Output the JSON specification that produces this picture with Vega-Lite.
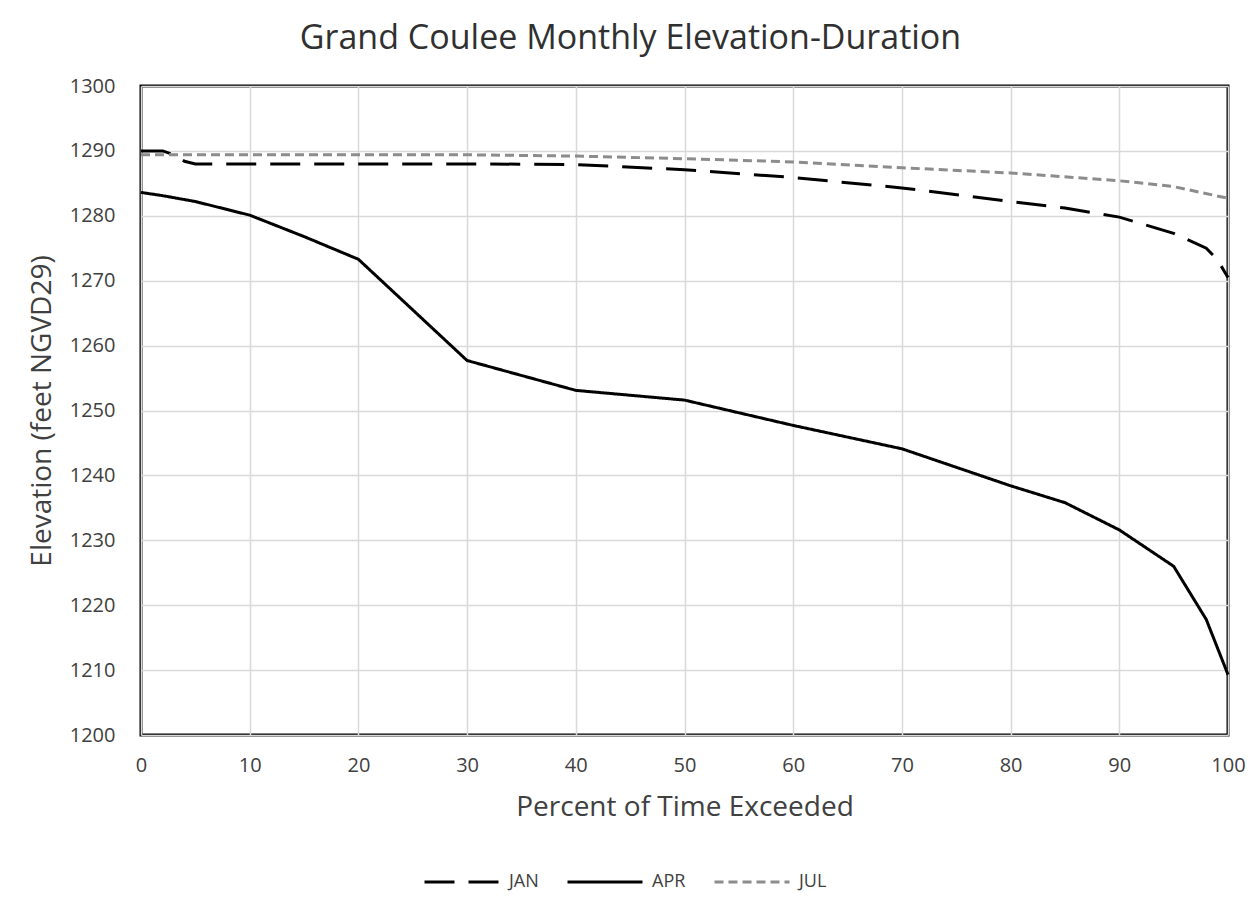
{
  "$schema": "https://vega.github.io/schema/vega-lite/v6.json",
  "autosize": "none",
  "width": 1087,
  "height": 649,
  "padding": {"left": 141, "top": 86, "right": 29, "bottom": 169},
  "background": "white",
  "title": {
    "text": "Grand Coulee Monthly Elevation-Duration",
    "font": "Open Sans",
    "fontSize": 34,
    "fontWeight": "normal",
    "color": "#303030",
    "anchor": "middle",
    "dx": -54,
    "offset": 20
  },
  "data": {
    "values": [
      {"month": "JAN", "pct": 0, "elev": 1290.0},
      {"month": "JAN", "pct": 2, "elev": 1290.0},
      {"month": "JAN", "pct": 3, "elev": 1289.4},
      {"month": "JAN", "pct": 4, "elev": 1288.4},
      {"month": "JAN", "pct": 5, "elev": 1288.0},
      {"month": "JAN", "pct": 10, "elev": 1288.0},
      {"month": "JAN", "pct": 20, "elev": 1288.0},
      {"month": "JAN", "pct": 30, "elev": 1288.0},
      {"month": "JAN", "pct": 40, "elev": 1287.9},
      {"month": "JAN", "pct": 50, "elev": 1287.1},
      {"month": "JAN", "pct": 60, "elev": 1285.9},
      {"month": "JAN", "pct": 70, "elev": 1284.3},
      {"month": "JAN", "pct": 80, "elev": 1282.2},
      {"month": "JAN", "pct": 85, "elev": 1281.2},
      {"month": "JAN", "pct": 90, "elev": 1279.8},
      {"month": "JAN", "pct": 95, "elev": 1277.3},
      {"month": "JAN", "pct": 98, "elev": 1275.0},
      {"month": "JAN", "pct": 99, "elev": 1273.3},
      {"month": "JAN", "pct": 100, "elev": 1270.5},
      {"month": "APR", "pct": 0, "elev": 1283.6},
      {"month": "APR", "pct": 2, "elev": 1283.1},
      {"month": "APR", "pct": 5, "elev": 1282.2},
      {"month": "APR", "pct": 10, "elev": 1280.1},
      {"month": "APR", "pct": 15, "elev": 1276.8},
      {"month": "APR", "pct": 20, "elev": 1273.3},
      {"month": "APR", "pct": 30, "elev": 1257.7},
      {"month": "APR", "pct": 40, "elev": 1253.1},
      {"month": "APR", "pct": 50, "elev": 1251.6},
      {"month": "APR", "pct": 60, "elev": 1247.7},
      {"month": "APR", "pct": 70, "elev": 1244.1},
      {"month": "APR", "pct": 80, "elev": 1238.4},
      {"month": "APR", "pct": 85, "elev": 1235.8},
      {"month": "APR", "pct": 90, "elev": 1231.6},
      {"month": "APR", "pct": 95, "elev": 1226.0},
      {"month": "APR", "pct": 98, "elev": 1217.8},
      {"month": "APR", "pct": 100, "elev": 1209.3},
      {"month": "JUL", "pct": 0, "elev": 1289.4},
      {"month": "JUL", "pct": 10, "elev": 1289.4},
      {"month": "JUL", "pct": 20, "elev": 1289.4},
      {"month": "JUL", "pct": 30, "elev": 1289.4},
      {"month": "JUL", "pct": 40, "elev": 1289.2},
      {"month": "JUL", "pct": 50, "elev": 1288.8},
      {"month": "JUL", "pct": 60, "elev": 1288.3},
      {"month": "JUL", "pct": 70, "elev": 1287.4},
      {"month": "JUL", "pct": 80, "elev": 1286.6},
      {"month": "JUL", "pct": 90, "elev": 1285.4},
      {"month": "JUL", "pct": 95, "elev": 1284.5},
      {"month": "JUL", "pct": 100, "elev": 1282.7}
    ]
  },
  "mark": {"type": "line", "strokeWidth": 3},
  "encoding": {
    "x": {
      "field": "pct",
      "type": "quantitative",
      "scale": {"domain": [0, 100], "nice": false},
      "axis": {
        "title": "Percent of Time Exceeded",
        "values": [0, 10, 20, 30, 40, 50, 60, 70, 80, 90, 100],
        "labelFlush": false,
        "labelPadding": 20,
        "titlePadding": 18
      }
    },
    "y": {
      "field": "elev",
      "type": "quantitative",
      "scale": {"domain": [1200, 1300], "nice": false, "zero": false},
      "axis": {
        "title": "Elevation (feet NGVD29)",
        "format": "d",
        "values": [1200, 1210, 1220, 1230, 1240, 1250, 1260, 1270, 1280, 1290, 1300],
        "labelPadding": 26,
        "titlePadding": 13
      }
    },
    "color": {
      "field": "month",
      "type": "nominal",
      "scale": {"domain": ["JAN", "APR", "JUL"], "range": ["#000000", "#000000", "#8c8c8c"]},
      "legend": {
        "title": null,
        "orient": "none",
        "direction": "horizontal",
        "legendX": 282,
        "legendY": 757,
        "columns": 3,
        "symbolType": "stroke",
        "symbolSize": 5625,
        "symbolStrokeWidth": 3,
        "labelFont": "Open Sans",
        "labelFontSize": 18,
        "labelColor": "#404040",
        "labelOffset": 8,
        "columnPadding": 22
      }
    },
    "strokeDash": {
      "field": "month",
      "type": "nominal",
      "scale": {"domain": ["JAN", "APR", "JUL"], "range": [[30, 14], [1, 0], [9, 5]]},
      "legend": null
    }
  },
  "config": {
    "view": {"stroke": "#000000", "strokeWidth": 3},
    "axis": {
      "domain": false,
      "ticks": false,
      "grid": true,
      "gridColor": "#d9d9d9",
      "gridWidth": 1.5,
      "labelFont": "Open Sans",
      "labelFontSize": 20,
      "labelColor": "#404040",
      "titleFont": "Open Sans",
      "titleFontSize": 28,
      "titleFontWeight": "normal",
      "titleColor": "#404040"
    }
  }
}
